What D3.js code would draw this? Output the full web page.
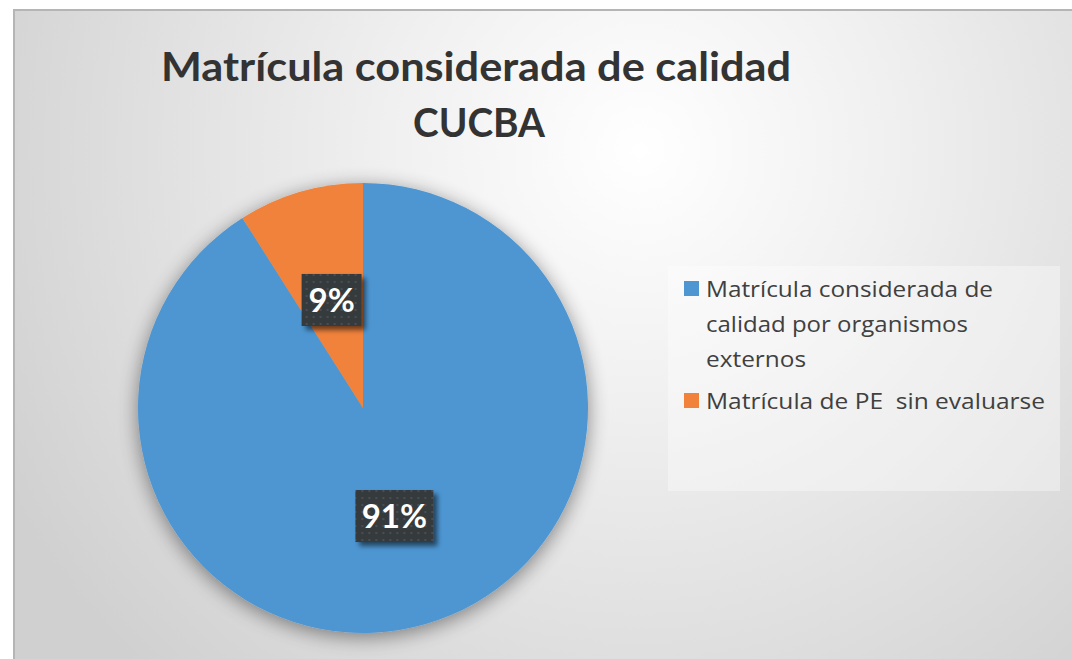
<!DOCTYPE html>
<html>
<head>
<meta charset="utf-8">
<script src="https://cdn.jsdelivr.net/npm/d3@7"></script>
<style>
  body { margin: 0; background: #fff; }
  svg { display: block; }
</style>
</head>
<body>
<svg id="chart" width="1072" height="659"></svg>
<script>
"use strict";

// data
var titleLines = ["Matrícula considerada de calidad", "CUCBA"];
var categories = ["Matrícula considerada de calidad por organismos externos",
                  "Matrícula de PE  sin evaluarse"];
var legendLines = [["Matrícula considerada de", "calidad por organismos", "externos"],
                   ["Matrícula de PE  sin evaluarse"]];
var values = [91, 9];
var colors = ["#4E96D2", "#F0823B"];

// widths the Calibri text took in the original, to stretch the fallback font
var titleWidths = [630, 132];
var legendWidths = [[287, 262, 100], [339]];

var svg = d3.select("#chart");
var defs = svg.append("defs");

// background gradient
var bg = defs.append("radialGradient").attr("id", "bg")
  .attr("gradientUnits", "userSpaceOnUse")
  .attr("cx", 640).attr("cy", 150).attr("r", 720);
bg.append("stop").attr("offset", "0").attr("stop-color", "#ffffff");
bg.append("stop").attr("offset", "0.35").attr("stop-color", "#f0f0f0");
bg.append("stop").attr("offset", "1").attr("stop-color", "#cfd0cf");

var pieShadow = defs.append("filter").attr("id", "pieShadow")
  .attr("x", "-20%").attr("y", "-20%").attr("width", "140%").attr("height", "140%");
pieShadow.append("feGaussianBlur").attr("in", "SourceAlpha").attr("stdDeviation", 10).attr("result", "b");
pieShadow.append("feOffset").attr("in", "b").attr("dx", 0).attr("dy", 4).attr("result", "o");
pieShadow.append("feComponentTransfer").attr("in", "o").attr("result", "s")
  .append("feFuncA").attr("type", "linear").attr("slope", 0.45);
var pm = pieShadow.append("feMerge");
pm.append("feMergeNode").attr("in", "s");
pm.append("feMergeNode").attr("in", "SourceGraphic");

var boxShadow = defs.append("filter").attr("id", "boxShadow")
  .attr("x", "-20%").attr("y", "-20%").attr("width", "150%").attr("height", "160%");
boxShadow.append("feGaussianBlur").attr("in", "SourceAlpha").attr("stdDeviation", 2.5).attr("result", "b");
boxShadow.append("feOffset").attr("in", "b").attr("dx", 4).attr("dy", 4).attr("result", "o");
boxShadow.append("feComponentTransfer").attr("in", "o").attr("result", "s")
  .append("feFuncA").attr("type", "linear").attr("slope", 0.55);
var bm = boxShadow.append("feMerge");
bm.append("feMergeNode").attr("in", "s");
bm.append("feMergeNode").attr("in", "SourceGraphic");

var dots = defs.append("pattern").attr("id", "dots")
  .attr("patternUnits", "userSpaceOnUse").attr("width", 7).attr("height", 7);
dots.append("rect").attr("width", 7).attr("height", 7).attr("fill", "#363a3e");
dots.append("rect").attr("x", 2).attr("y", 2).attr("width", 2).attr("height", 2).attr("fill", "#4a4e52");

// chart frame
svg.append("rect")
  .attr("x", 14).attr("y", 10).attr("width", 1070).attr("height", 660)
  .attr("fill", "url(#bg)")
  .attr("stroke", "#b4b5b4").attr("stroke-width", 2);

// title
svg.selectAll("text.title").data(titleLines).enter().append("text")
  .attr("class", "title")
  .attr("x", function (d, i) { return i == 0 ? 476 : 479; })
  .attr("y", function (d, i) { return 81 + i * 56; })
  .attr("text-anchor", "middle")
  .attr("textLength", function (d, i) { return titleWidths[i]; })
  .attr("lengthAdjust", "spacingAndGlyphs")
  .style("font-family", "Lato, 'Open Sans', sans-serif")
  .style("font-weight", "bold")
  .style("font-size", "41px")
  .style("fill", "#333333")
  .text(function (d) { return d; });

// pie
var cx = 363, cy = 408, radius = 225;
var pie = d3.pie().sort(null).value(function (d) { return d; });
var arc = d3.arc().innerRadius(0).outerRadius(radius);
var arcs = pie(values);

var g = svg.append("g").attr("transform", "translate(" + cx + "," + cy + ")");
g.append("g").attr("filter", "url(#pieShadow)")
  .selectAll("path").data(arcs).enter().append("path")
  .attr("d", arc)
  .attr("fill", function (d, i) { return colors[i]; });

// data labels
var total = d3.sum(values);
var boxW = [78, 60], boxH = 52;
var lab = g.selectAll("g.label").data(arcs).enter().append("g")
  .attr("class", "label")
  .attr("transform", function (d) { var c = arc.centroid(d); return "translate(" + c[0] + "," + c[1] + ")"; });
lab.append("rect")
  .attr("x", function (d, i) { return -boxW[i] / 2; })
  .attr("y", -boxH / 2)
  .attr("width", function (d, i) { return boxW[i]; })
  .attr("height", boxH)
  .attr("fill", "url(#dots)")
  .attr("filter", "url(#boxShadow)");
lab.append("text")
  .attr("text-anchor", "middle")
  .attr("dy", "0.36em")
  .style("font-family", "Lato, 'Open Sans', sans-serif")
  .style("font-weight", "bold")
  .style("font-size", "33px")
  .style("fill", "#ffffff")
  .text(function (d) { return Math.round(d.value / total * 100) + "%"; });

// legend
var legend = svg.append("g");
legend.append("rect")
  .attr("x", 668).attr("y", 266).attr("width", 392).attr("height", 225)
  .attr("fill", "#ffffff").attr("fill-opacity", 0.35);

var itemY = [297, 409];
var items = legend.selectAll("g.item").data(categories).enter().append("g").attr("class", "item");
items.append("rect")
  .attr("x", 684)
  .attr("y", function (d, i) { return itemY[i] - 16; })
  .attr("width", 15).attr("height", 15)
  .attr("fill", function (d, i) { return colors[i]; });
items.each(function (d, i) {
  d3.select(this).selectAll("text").data(legendLines[i]).enter().append("text")
    .attr("x", 706)
    .attr("y", function (t, j) { return itemY[i] + j * 35; })
    .attr("textLength", function (t, j) { return legendWidths[i][j]; })
    .attr("lengthAdjust", "spacingAndGlyphs")
    .style("font-family", "'Open Sans', Lato, sans-serif")
    .style("font-size", "21px")
    .style("fill", "#404040")
    .style("white-space", "pre")
    .text(function (t) { return t; });
});
</script>
</body>
</html>
